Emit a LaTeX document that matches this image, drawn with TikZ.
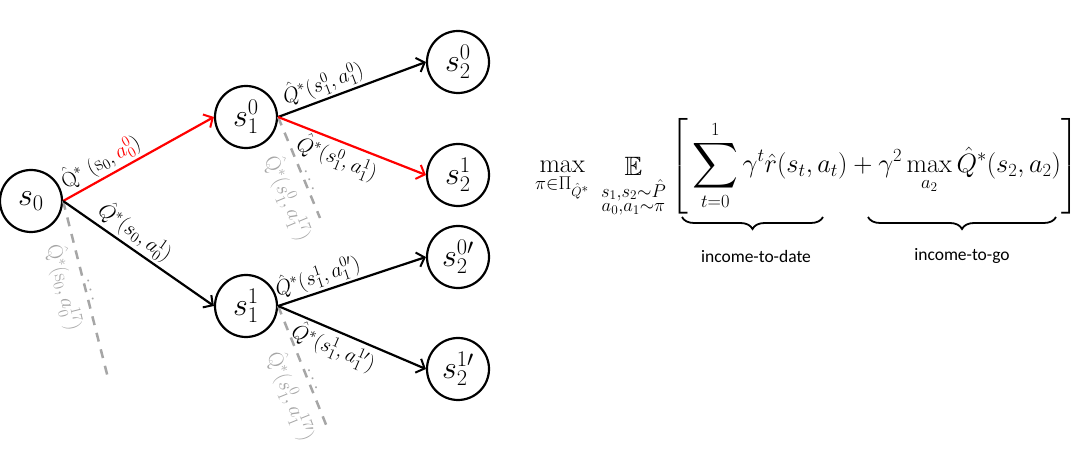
\documentclass[tikz,border=0pt]{standalone}
\usepackage{fix-cm}
\usepackage{fontspec}
\usepackage{amsmath,amssymb,graphicx}
\newfontfamily\carlito{Carlito}
\usetikzlibrary{arrows.meta,decorations.pathreplacing}
\definecolor{lgray}{HTML}{A6A6A6}
\definecolor{pred}{HTML}{FF0000}
\newcommand{\bsum}{\mathop{\vcenter{\hbox{\scalebox{1.2}{$\displaystyle\sum$}}}}\limits}
\begin{document}
\begin{tikzpicture}[x=1pt,y=-1pt,
  state/.style={circle,draw,line width=2.2pt,minimum size=62pt,inner sep=0pt,font=\fontsize{32}{34}\selectfont},
  edge/.style={line width=2.2pt,-{Straight Barb[length=7pt,width=15pt,line width=2pt]}},
  elabel/.style={sloped,text=black,font=\fontsize{21}{24}\selectfont,inner sep=2.5pt},
  ghost/.style={lgray,line width=2.5pt,dash pattern=on 9pt off 8pt},
  glabel/.style={sloped,text=lgray,font=\fontsize{21}{24}\selectfont,inner sep=2.5pt},
  cbrace/.style={decorate,decoration={brace,mirror,amplitude=12pt,raise=0pt},line width=1.8pt},
  blabel/.style={font=\carlito\fontsize{17.5}{20}\selectfont,inner sep=0pt}
]
\useasboundingbox (0,0) rectangle (1080,462);
% states
\node[state] (s0) at (31,201) {$s_0$};
\node[state] (s10) at (246,117) {$s_1^0$};
\node[state] (s11) at (246,306) {$s_1^1$};
\node[state] (s20) at (458,62) {$s_2^0$};
\node[state] (s21) at (458,175) {$s_2^1$};
\node[state] (s22) at (458,257) {$s_2^{0\prime}$};
\node[state] (s23) at (458,369) {$s_2^{1\prime}$};
% ghost ends
\coordinate (d0e) at (108,378);
\coordinate (d1e) at (320,218);
\coordinate (d2e) at (327,427);
% ghost branches
\draw[ghost] (s0.east) -- node[glabel,below=3pt,pos=0.46] {$\hat{\mathrm{Q}}^*(\mathrm{s}_0,a_0^{17})$}
  node[glabel,above,pos=0.52] {$\dots$} (d0e);
\draw[ghost] (s10.east) -- node[glabel,below=5pt,pos=0.72] {$\hat{\mathrm{Q}}^*(s_1^0,a_1^{17})$}
  node[glabel,above,pos=0.66] {$\dots$} (d1e);
\draw[ghost] (s11.east) -- node[glabel,below=5pt,pos=0.68] {$\hat{\mathrm{Q}}^*(s_1^0,a_1^{17\prime})$}
  node[glabel,above,pos=0.63] {$\dots$} (d2e);
% edges
\draw[edge,pred] (s0.east) -- node[elabel,above,pos=0.3] {$\hat{\mathrm{Q}}^*\;(\mathrm{s}_0,\textcolor{pred}{a_0^0})$} (s10.west);
\draw[edge] (s0.east) -- node[elabel,above,pos=0.42] {$\hat{Q}^*(s_0,a_0^1)$} (s11.west);
\draw[edge] (s10.east) -- node[elabel,above,pos=0.34] {$\hat{Q}^*(s_1^0,a_1^0)$} (s20.west);
\draw[edge,pred] (s10.east) -- node[elabel,below,pos=0.44] {$\hat{Q}^*(s_1^0,a_1^1)$} (s21.west);
\draw[edge] (s11.east) -- node[elabel,above,pos=0.3] {$\hat{Q}^*(s_1^1,a_1^{0\prime})$} (s22.west);
\draw[edge] (s11.east) -- node[elabel,below,pos=0.42] {$\hat{Q}^*(s_1^1,a_1^{1\prime})$} (s23.west);
% formula
\node[anchor=base west,inner sep=0pt,font=\fontsize{26.5}{30}\selectfont] (eq) at (535,172.6) {$\displaystyle
  \max_{\pi\in\Pi_{\hat{Q}^*}}\;
  \mathop{\mathbb{E}}\limits_{\substack{s_1,s_2\sim\hat{P}\\ a_0,a_1\sim\pi}}
  \left[\rule[-43.4pt]{0pt}{100pt}
  \bsum_{t=0}^{1}\gamma^t\hat{r}(s_t,a_t)
  +
  \gamma^2\max_{a_2}\hat{Q}^*(s_2,a_2)
  \right]$};
% braces
\coordinate (b1l) at (682,217);
\coordinate (b1r) at (823,217);
\coordinate (b2l) at (868,217);
\coordinate (b2r) at (1056,217);
\draw[cbrace] (b1l) -- (b1r);
\draw[cbrace] (b2l) -- (b2r);
\node[blabel] (l1) at (756,256) {income-to-date};
\node[blabel] (l2) at (962,256) {income-to-go};
\end{tikzpicture}
\end{document}
